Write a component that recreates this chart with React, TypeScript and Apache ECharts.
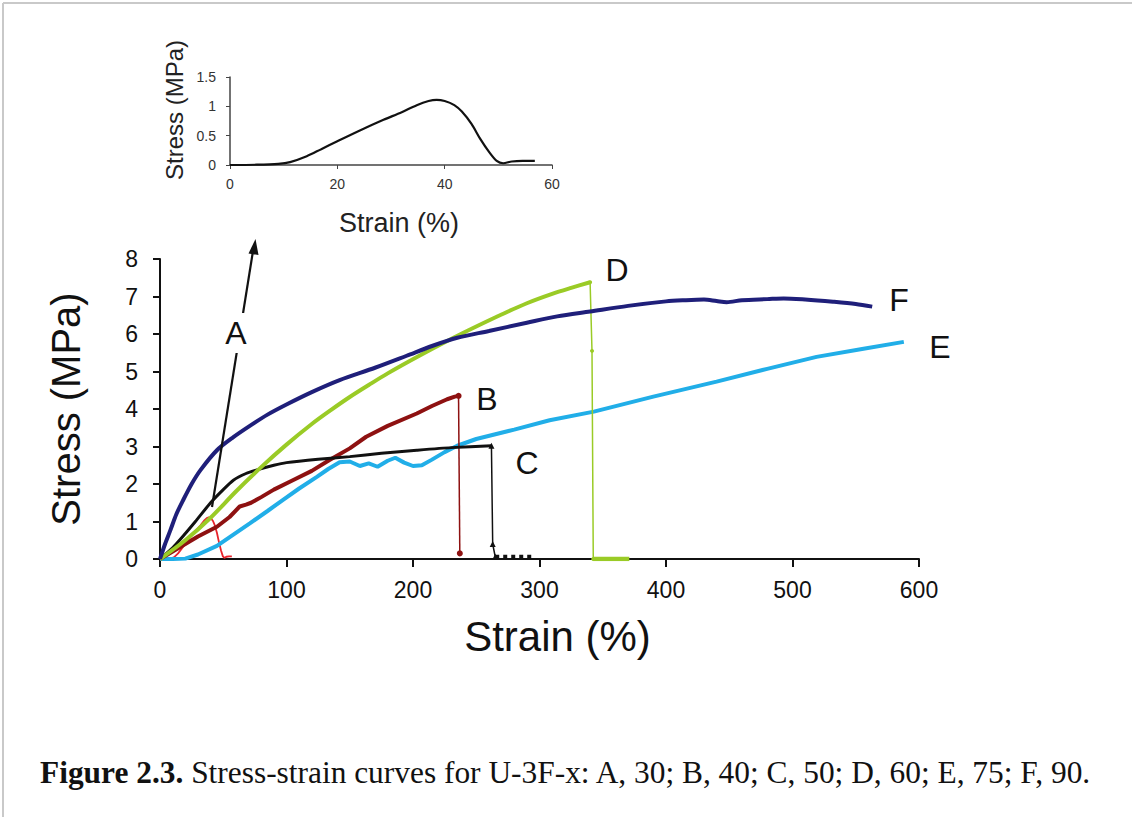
import React, { useEffect, useRef } from "react";
import * as echarts from "echarts";

// ---------- data ----------
const mainXTicks = [0, 100, 200, 300, 400, 500, 600];
const mainYTicks = [0, 1, 2, 3, 4, 5, 6, 7, 8];

// A, 30 (inset curve, also drawn in main chart)
const curveA: [number, number][] = [
  [0, 0], [5, 0.005], [9, 0.02], [11.2, 0.05], [14.3, 0.15], [17, 0.27], [19.9, 0.4],
  [24, 0.58], [28.6, 0.77], [32, 0.9], [34.8, 1.02], [37, 1.09], [38.5, 1.11], [40, 1.09],
  [41.8, 1.02], [43.2, 0.91], [45, 0.7], [46.6, 0.45], [48.3, 0.22], [49.7, 0.07],
  [50.9, 0.03], [52.5, 0.06], [54.5, 0.07], [56.8, 0.07],
];

// B, 40
const curveB: [number, number][] = [
  [0, 0], [10, 0.2], [20, 0.4], [30, 0.6], [45, 0.86], [55, 1.12], [63, 1.4], [68, 1.45],
  [72, 1.5], [80, 1.65], [90, 1.85], [105, 2.1], [120, 2.35], [134, 2.64], [150, 2.95],
  [163, 3.26], [180, 3.55], [203, 3.88], [215, 4.08], [227, 4.26], [233, 4.33], [236, 4.35],
];
const dropB: [number, number][] = [[236, 4.35], [237, 0.15]];

// C, 50
const curveC: [number, number][] = [
  [0, 0], [10, 0.3], [18, 0.6], [28, 1.0], [40, 1.5], [50, 1.85], [58, 2.1], [68, 2.28],
  [76, 2.37], [90, 2.5], [100, 2.57], [125, 2.66], [150, 2.73], [175, 2.82], [203, 2.9],
  [230, 2.97], [262, 3.02],
];
const dropC: [number, number][] = [[262, 3.02], [263, 0.4], [265, 0.06]];
const tailC: [number, number][] = [[265, 0.06], [294, 0.06]];

// D, 60
const curveD: [number, number][] = [
  [0, 0], [20, 0.5], [40, 1.1], [60, 1.8], [80, 2.45], [100, 3.05], [120, 3.6],
  [135, 3.97], [150, 4.32], [165, 4.64], [180, 4.95], [205, 5.42], [232, 5.9],
  [250, 6.2], [270, 6.52], [290, 6.82], [310, 7.07], [325, 7.23], [340, 7.38],
];
const dropD: [number, number][] = [[340, 7.38], [341.5, 5.55], [342.5, 0]];
const tailD: [number, number][] = [[342.5, 0], [371, 0]];

// E, 75
const curveE: [number, number][] = [
  [0, 0], [10, 0], [20, 0.01], [30, 0.12], [45, 0.35], [58, 0.65], [71, 0.95], [85, 1.28],
  [97, 1.57], [110, 1.88], [124, 2.19], [133, 2.4], [142, 2.58], [150, 2.6], [158, 2.48],
  [165, 2.55], [172, 2.46], [180, 2.62], [186, 2.7], [193, 2.57], [200, 2.48], [207, 2.5],
  [215, 2.65], [225, 2.85], [235, 3.02], [250, 3.2], [280, 3.45], [308, 3.7], [343, 3.93],
  [390, 4.33], [440, 4.73], [480, 5.07], [519, 5.39], [555, 5.6], [588, 5.79],
];

// F, 90
const curveF: [number, number][] = [
  [0, 0], [4, 0.4], [8, 0.75], [13, 1.2], [18, 1.55], [25, 2.0], [32, 2.37], [45, 2.9],
  [58, 3.25], [71, 3.55], [85, 3.85], [100, 4.12], [120, 4.45], [142, 4.77], [170, 5.1],
  [195, 5.42], [215, 5.68], [235, 5.9], [260, 6.08], [290, 6.3], [314, 6.47], [340, 6.6],
  [370, 6.75], [400, 6.87], [414, 6.9], [430, 6.92], [440, 6.88], [448, 6.85], [460, 6.9],
  [480, 6.93], [493, 6.95], [510, 6.92], [532, 6.86], [550, 6.8], [563, 6.73],
];

const curveLabels = ["A", "B", "C", "D", "E", "F"];
const captionBold = "Figure 2.3.";
const caption = "Stress-strain curves for U-3F-x: A, 30; B, 40; C, 50; D, 60; E, 75; F, 90.";

// ---------- colours ----------
const cA = "#e8232b";
const cB = "#8e1111";
const cC = "#111111";
const cD = "#9acb26";
const cE = "#21aee8";
const cF = "#1f1f7a";

const FONT = "'Liberation Sans', Arial, sans-serif";

export default function App() {
  const ref = useRef<HTMLDivElement>(null);

  useEffect(() => {
    const chart = echarts.init(ref.current!, null, { renderer: "svg" });

    const line = (
      name: string,
      data: [number, number][],
      color: string,
      width: number,
      axis: number,
      extra: any = {}
    ) => ({
      name,
      type: "line",
      xAxisIndex: axis,
      yAxisIndex: axis,
      data,
      symbol: "none",
      smooth: false,
      lineStyle: { color, width },
      itemStyle: { color },
      silent: true,
      ...extra,
    });

    const labelPos: Record<string, [number, number]> = {
      A: [236, 333],
      B: [487, 399],
      C: [527, 463],
      D: [617, 270],
      E: [940, 347],
      F: [899, 300],
    };

    const labelGraphics = curveLabels.map((l) => ({
      type: "text",
      x: labelPos[l][0],
      y: labelPos[l][1],
      z: 100,
      style: {
        text: l,
        font: `32px ${FONT}`,
        fill: "#111",
        align: "center",
        verticalAlign: "middle",
        backgroundColor: l === "A" ? "#fff" : undefined,
        padding: l === "A" ? [4, 2, 4, 2] : 0,
      },
    }));

    chart.setOption({
      animation: false,
      backgroundColor: "transparent",
      textStyle: { fontFamily: FONT },
      grid: [
        { left: 160, top: 259, width: 759, height: 300 },
        { left: 230, top: 77, width: 322, height: 88 },
      ],
      xAxis: [
        {
          type: "value",
          gridIndex: 0,
          min: mainXTicks[0],
          max: mainXTicks[mainXTicks.length - 1],
          interval: 100,
          name: "Strain (%)",
          nameLocation: "middle",
          nameGap: 56,
          nameTextStyle: { fontSize: 42, color: "#111", fontFamily: FONT, padding: [0, 0, 0, 36] },
          axisLine: { lineStyle: { color: "#111", width: 2 } },
          axisTick: { show: true, length: 8, lineStyle: { color: "#111", width: 2 } },
          axisLabel: { fontSize: 23, color: "#111", margin: 19, fontFamily: FONT },
          splitLine: { show: false },
        },
        {
          type: "value",
          gridIndex: 1,
          min: 0,
          max: 60,
          interval: 20,
          name: "Strain (%)",
          nameLocation: "middle",
          nameGap: 44,
          nameTextStyle: { fontSize: 27, color: "#222", fontFamily: FONT, padding: [0, 0, 0, 16] },
          axisLine: { lineStyle: { color: "#444", width: 1.5 } },
          axisTick: { show: true, length: 4, lineStyle: { color: "#444" } },
          axisLabel: { fontSize: 14, color: "#333", margin: 12, fontFamily: FONT },
          splitLine: { show: false },
        },
      ],
      yAxis: [
        {
          type: "value",
          gridIndex: 0,
          min: mainYTicks[0],
          max: mainYTicks[mainYTicks.length - 1],
          interval: 1,
          name: "Stress (MPa)",
          nameLocation: "middle",
          nameGap: 74,
          nameRotate: 90,
          nameTextStyle: { fontSize: 40, color: "#111", fontFamily: FONT },
          axisLine: { show: true, lineStyle: { color: "#111", width: 2 } },
          axisTick: { show: true, length: 7, lineStyle: { color: "#111", width: 2 } },
          axisLabel: { fontSize: 23, color: "#111", margin: 22, fontFamily: FONT },
          splitLine: { show: false },
        },
        {
          type: "value",
          gridIndex: 1,
          min: 0,
          max: 1.5,
          interval: 0.5,
          axisLine: { show: true, lineStyle: { color: "#444", width: 1.5 } },
          axisTick: { show: true, length: 4, lineStyle: { color: "#444" } },
          axisLabel: { fontSize: 14, color: "#333", margin: 14, fontFamily: FONT },
          splitLine: { show: false },
        },
      ],
      series: [
        line("A", curveA, cA, 1.8, 0),
        line("E", curveE, cE, 4, 0),
        line("B", curveB, cB, 4, 0),
        line("B drop", dropB, cB, 1.5, 0, {
          symbol: "circle",
          symbolSize: 6,
          showSymbol: true,
        }),
        line("C", curveC, cC, 3, 0, { smooth: 0.2 }),
        line("C drop", dropC, cC, 1.5, 0, {
          symbol: "triangle",
          symbolSize: 6,
          showSymbol: true,
        }),
        line("C tail", tailC, cC, 4, 0, { lineStyle: { color: cC, width: 4, type: "dotted" } }),
        line("D", curveD, cD, 4, 0, { smooth: 0.3 }),
        line("D drop", dropD, cD, 1.5, 0, {
          symbol: "circle",
          symbolSize: 4,
          showSymbol: true,
        }),
        line("D tail", tailD, cD, 4.5, 0),
        line("F", curveF, cF, 4, 0, { smooth: 0.3 }),
        line("A inset", curveA, "#111", 2.2, 1, { smooth: 0.3 }),
      ],
      graphic: [
        ...labelGraphics,
        {
          type: "text",
          x: 174,
          y: 110,
          rotation: Math.PI / 2,
          style: {
            text: "Stress (MPa)",
            font: `24px ${FONT}`,
            fill: "#222",
            align: "center",
            verticalAlign: "middle",
          },
        },
        {
          type: "line",
          z: 90,
          shape: { x1: 212, y1: 507, x2: 253, y2: 251 },
          style: { stroke: "#111", lineWidth: 2.2 },
        },
        {
          type: "polygon",
          z: 90,
          shape: {
            points: [
              [255.5, 239],
              [258.5, 255],
              [248.5, 253.5],
            ],
          },
          style: { fill: "#111" },
        },
        {
          type: "line",
          shape: { x1: 3, y1: 3, x2: 1132, y2: 3 },
          style: { stroke: "#c9c9c9", lineWidth: 2 },
        },
        {
          type: "line",
          shape: { x1: 3, y1: 3, x2: 3, y2: 817 },
          style: { stroke: "#c9c9c9", lineWidth: 2 },
        },
      ],
    });

    return () => chart.dispose();
  }, []);

  return (
    <div
      style={{
        position: "absolute",
        left: 0,
        top: 0,
        width: 1132,
        height: 819,
        background: "#fff",
        overflow: "hidden",
      }}
    >
      <div ref={ref} style={{ position: "absolute", left: 0, top: 0, width: 1132, height: 819 }} />
      <div
        style={{
          position: "absolute",
          left: 40,
          top: 755,
          fontFamily: "'Liberation Serif', 'Times New Roman', serif",
          fontSize: 31.4,
          color: "#111",
          whiteSpace: "nowrap",
          lineHeight: "36px",
        }}
      >
        <b>{captionBold}</b> {caption}
      </div>
    </div>
  );
}
